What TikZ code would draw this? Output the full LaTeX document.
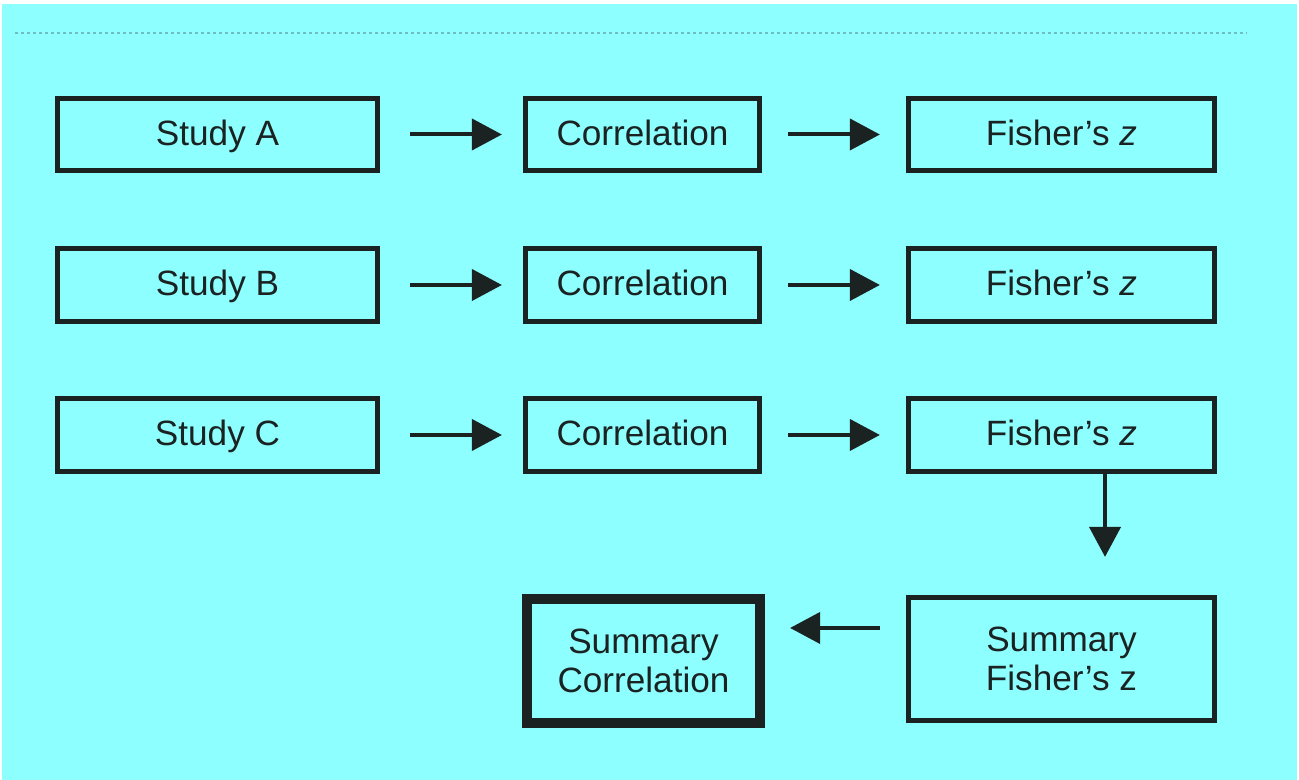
\documentclass[tikz,border=0pt]{standalone}
\usepackage{fontspec}
\setmainfont{Liberation Sans}
\usetikzlibrary{arrows.meta}
\definecolor{bgcyan}{RGB}{142,255,255}
\definecolor{ink}{RGB}{26,34,34}
\definecolor{dotcol}{RGB}{110,190,195}
\tikzset{
	box/.style={draw=ink, line width=0.05cm, minimum height=0.72cm, text=ink, align=center, font=\fontsize{10}{11}\selectfont},
	onerow/.style={box, text height=1.6ex, text depth=0.45ex},
	arr/.style={draw=ink, line width=0.04cm, -{Triangle[length=0.3cm,width=0.31cm]}}
}

\begin{document}
\begin{tikzpicture}[x=0.01cm, y=-0.01cm]
			%%%%% START %%%%%
			\fill[white] (0, 0) rectangle (1299, 780);
			\fill[bgcyan] (2, 4) rectangle (1297, 780);
			\draw[dotcol, line width=0.025cm, dash pattern=on 0.03cm off 0.03cm] (15, 33) -- (1247, 33);
			
			% row A
			\node[onerow, minimum width=3.20cm] (studyA) at (217.5, 134.5) {Study A};
			\node[onerow, minimum width=2.34cm] (corA) at (642.5, 134.5) {Correlation};
			\node[onerow, minimum width=3.06cm] (fzA) at (1061.5, 134.5) {Fisher’s \textit{z}};
			
			% row B
			\node[onerow, minimum width=3.20cm] (studyB) at (217.5, 285) {Study B};
			\node[onerow, minimum width=2.34cm] (corB) at (642.5, 285) {Correlation};
			\node[onerow, minimum width=3.06cm] (fzB) at (1061.5, 285) {Fisher’s \textit{z}};
			
			% row C
			\node[onerow, minimum width=3.20cm] (studyC) at (217.5, 435) {Study C};
			\node[onerow, minimum width=2.34cm] (corC) at (642.5, 435) {Correlation};
			\node[onerow, minimum width=3.06cm] (fzC) at (1061.5, 435) {Fisher’s \textit{z}};
			
			% summaries
			\node[box, minimum width=3.06cm, minimum height=1.23cm] (sumfz) at (1061.5, 659) {Summary\\Fisher’s z};
			\node[box, line width=0.1cm, minimum width=2.33cm, minimum height=1.24cm] (sumcor) at (643.5, 661) {Summary\\Correlation};
			
			\foreach \r in {A,B,C}{
				\draw[arr, shorten <=0.3cm, shorten >=0.21cm] (study\r) -- (cor\r);
				\draw[arr, shorten <=0.26cm, shorten >=0.26cm] (cor\r) -- (fz\r);
			}
			
			\draw[arr, shorten >=0.38cm] ([xshift=0.435cm]fzC.south) -- ([xshift=0.435cm]fzC.south |- sumfz.north);
			\draw[arr, shorten <=0.26cm, shorten >=0.25cm] ([yshift=0.31cm]sumfz.west) -- ([yshift=0.31cm]sumfz.west -| sumcor.east);
			%%%%% END %%%%%
\end{tikzpicture}
\end{document}
